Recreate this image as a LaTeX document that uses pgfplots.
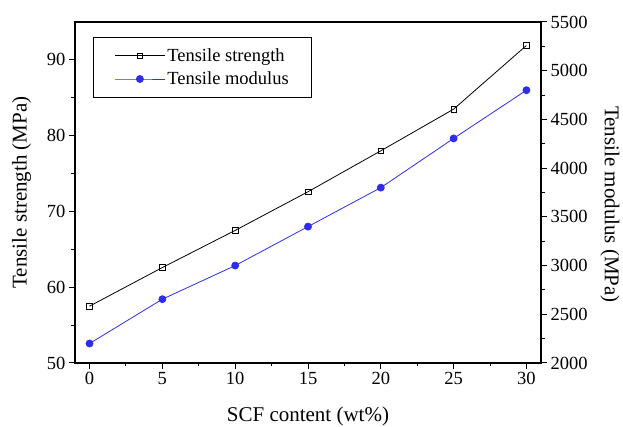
\documentclass[border=0pt]{standalone}
\usepackage{fontspec}
\setmainfont{Liberation Serif}
\usepackage{pgfplots}
\pgfplotsset{compat=1.18}
\definecolor{modblue}{RGB}{45,45,235}
\pgfplotstableread{
x s
0 57.5
5 62.6
10 67.5
15 72.6
20 78.0
25 83.5
30 91.9
}\strength
\pgfplotstableread{
x m
0 2200
5 2655
10 3000
15 3400
20 3800
25 4305
30 4800
}\modulus
\begin{document}
\begin{tikzpicture}
\pgfplotsset{
 every axis/.append style={
  scale only axis, width=466pt, height=341pt,
  xmin=-1, xmax=31,
  tick label style={font=\fontsize{18.5}{20}\selectfont},
  label style={font=\fontsize{21}{24}\selectfont},
  /pgf/number format/assume math mode=true,
  /pgf/number format/1000 sep={},
  major tick length=6pt, minor tick length=3.5pt,
  every tick/.style={line width=1pt, black},
  axis line style={line width=1.6pt},
  tick align=outside,
 },
 legend image code/.code={\draw[mark repeat=2,mark phase=2] plot coordinates {(0pt,0pt) (25pt,0pt) (50pt,0pt)};},
}
\begin{axis}[name=ax,
  ymin=50, ymax=95,
  ytick={50,60,70,80,90}, minor y tick num=1,
  xtick={0,5,...,30}, minor x tick num=1,
  xtick pos=bottom, ytick pos=left,
  xlabel={SCF content (wt\%)},
  ylabel={Tensile strength (MPa)},
  xlabel shift=15pt, ylabel shift=9pt,
  legend style={at={(0.0386,0.956)}, anchor=north west, draw=black, line width=1pt,
    font=\fontsize{18.5}{20}\selectfont, cells={anchor=west}, row sep=5pt,
    inner xsep=21pt, inner ysep=9pt},
]
\addplot[black, line width=0.8pt, mark=square, mark size=2.8pt, mark options={fill=white, line width=0.6pt}] table[x=x,y=s] {\strength};
\addlegendentry{Tensile strength}
\addlegendimage{modblue, line width=0.8pt, mark=*, mark size=3.5pt, mark options={fill=modblue}}
\addlegendentry{Tensile modulus}
\end{axis}
\begin{axis}[
  ymin=2000, ymax=5500,
  ytick={2000,2500,...,5500}, minor y tick num=1,
  axis x line=none, axis y line*=right, ytick pos=right,
  ylabel={Tensile modulus (MPa)},
  ylabel shift=6pt,
  ylabel style={rotate=180, xshift=12pt},
]
\addplot[modblue, line width=0.8pt, mark=*, mark size=3.5pt, mark options={fill=modblue}] table[x=x,y=m] {\modulus};
\end{axis}
\pgfresetboundingbox
\path ([xshift=-75pt,yshift=-64pt]ax.south west) rectangle ++(623pt,427pt);
\end{tikzpicture}
\end{document}
